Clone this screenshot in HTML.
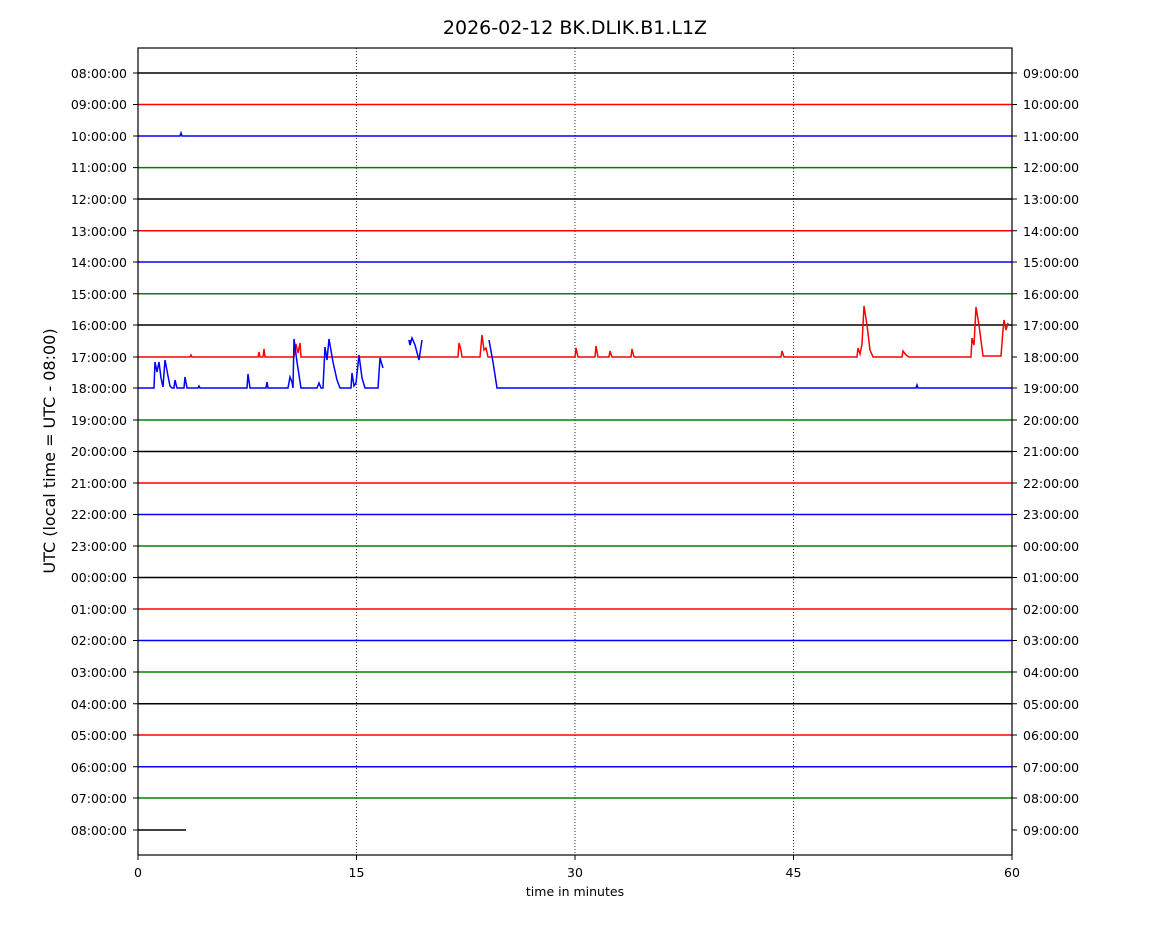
<!DOCTYPE html>
<html><head><meta charset="utf-8"><style>
body{margin:0;background:#fff}
svg{display:block;font-family:"DejaVu Sans","Liberation Sans",sans-serif}
</style></head><body>
<svg width="1150" height="950" viewBox="0 0 1150 950" xmlns="http://www.w3.org/2000/svg">
<rect width="1150" height="950" fill="#fff"/>
<text x="575" y="34" font-size="19" text-anchor="middle">2026-02-12 BK.DLIK.B1.L1Z</text>
<g stroke="#000" stroke-width="0.8" stroke-dasharray="1,2">
<line x1="356.5" y1="48" x2="356.5" y2="855"/>
<line x1="575" y1="48" x2="575" y2="855"/>
<line x1="793.5" y1="48" x2="793.5" y2="855"/>
</g>
<g stroke-width="1.5" fill="none">
<line x1="138" y1="73" x2="1012" y2="73" stroke="#000"/>
<line x1="138" y1="104.5" x2="1012" y2="104.5" stroke="red"/>
<polyline stroke="blue" points="138,136 180,136 181,133 182,136 1012,136"/>
<line x1="138" y1="167.6" x2="1012" y2="167.6" stroke="green"/>
<line x1="138" y1="199" x2="1012" y2="199" stroke="#000"/>
<line x1="138" y1="230.7" x2="1012" y2="230.7" stroke="red"/>
<line x1="138" y1="262" x2="1012" y2="262" stroke="blue"/>
<line x1="138" y1="293.8" x2="1012" y2="293.8" stroke="green"/>
<line x1="138" y1="325" x2="1012" y2="325" stroke="#000"/>
<polyline stroke="red" points="138,357 190,357 191,355 192,357 258,357 259,352 260,357 263,357 264,349 265,357 294,357 296,344 298,353 300,343 301,357 458,357 459,343 461,350 462,357 480,357 482,335 484,350 486,348 488,357 575,357 576,348 578,357 595,357 596,346 598,357 609,357 610,351 612,357 631,357 632,349 634,357 781,357 782,351 784,357 857,357 858,348 860,354 862,344 864,306 867,325 870,350 873,357 902,357 903,351 906,355 909,357 971,357 972,338 974,345 976,307 979,325 983,356 1001,356 1003,330 1004,320 1006,330 1008,323"/>
<polyline stroke="blue" points="138,388 154,388 155,362 157,372 159,362 161,378 163,387 165,360 168,376 170,386 172,388 174,388 175,380 177,388 184,388 185,377 187,388 198,388 199,386 200,388 247,388 248,374 250,388 266,388 267,382 268,388 288,388 290,377 292,382 293,388 294,339 297,362 301,388 317,388 319,383 321,388 323,388 325,347 327,360 329,339 333,362 337,380 340,388 351,388 352,373 354,386 356,383 359,355 362,378 365,388 378,388 380,358 383,368"/>
<polyline stroke="blue" points="409,340 410,345 411,340 M"/>
<polyline stroke="blue" points="409,340 410,345 412,338 415,345 419,360 422,340"/>
<polyline stroke="blue" points="489,340 493,362 497,388 916,388 917,385 918,388 1012,388"/>
<line x1="138" y1="420" x2="1012" y2="420" stroke="green"/>
<line x1="138" y1="451.5" x2="1012" y2="451.5" stroke="#000"/>
<line x1="138" y1="483" x2="1012" y2="483" stroke="red"/>
<line x1="138" y1="514.5" x2="1012" y2="514.5" stroke="blue"/>
<line x1="138" y1="546" x2="1012" y2="546" stroke="green"/>
<line x1="138" y1="577.5" x2="1012" y2="577.5" stroke="#000"/>
<line x1="138" y1="609" x2="1012" y2="609" stroke="red"/>
<line x1="138" y1="640.5" x2="1012" y2="640.5" stroke="blue"/>
<line x1="138" y1="672" x2="1012" y2="672" stroke="green"/>
<line x1="138" y1="703.7" x2="1012" y2="703.7" stroke="#000"/>
<line x1="138" y1="735" x2="1012" y2="735" stroke="red"/>
<line x1="138" y1="766.7" x2="1012" y2="766.7" stroke="blue"/>
<line x1="138" y1="798" x2="1012" y2="798" stroke="green"/>
<line x1="138" y1="830" x2="186" y2="830" stroke="#000"/>
</g>
<rect x="138" y="48" width="874" height="807" fill="none" stroke="#000" stroke-width="1.2"/>
<g font-size="12.5" fill="#000">
<g text-anchor="end">
<text x="127" y="78">08:00:00</text><text x="127" y="109">09:00:00</text><text x="127" y="141">10:00:00</text><text x="127" y="172">11:00:00</text><text x="127" y="204">12:00:00</text><text x="127" y="236">13:00:00</text><text x="127" y="267">14:00:00</text><text x="127" y="299">15:00:00</text><text x="127" y="330">16:00:00</text><text x="127" y="362">17:00:00</text><text x="127" y="393">18:00:00</text><text x="127" y="425">19:00:00</text><text x="127" y="456">20:00:00</text><text x="127" y="488">21:00:00</text><text x="127" y="519">22:00:00</text><text x="127" y="551">23:00:00</text><text x="127" y="582">00:00:00</text><text x="127" y="614">01:00:00</text><text x="127" y="645">02:00:00</text><text x="127" y="677">03:00:00</text><text x="127" y="709">04:00:00</text><text x="127" y="740">05:00:00</text><text x="127" y="772">06:00:00</text><text x="127" y="803">07:00:00</text><text x="127" y="835">08:00:00</text>
</g>
<g text-anchor="start">
<text x="1023" y="78">09:00:00</text><text x="1023" y="109">10:00:00</text><text x="1023" y="141">11:00:00</text><text x="1023" y="172">12:00:00</text><text x="1023" y="204">13:00:00</text><text x="1023" y="236">14:00:00</text><text x="1023" y="267">15:00:00</text><text x="1023" y="299">16:00:00</text><text x="1023" y="330">17:00:00</text><text x="1023" y="362">18:00:00</text><text x="1023" y="393">19:00:00</text><text x="1023" y="425">20:00:00</text><text x="1023" y="456">21:00:00</text><text x="1023" y="488">22:00:00</text><text x="1023" y="519">23:00:00</text><text x="1023" y="551">00:00:00</text><text x="1023" y="582">01:00:00</text><text x="1023" y="614">02:00:00</text><text x="1023" y="645">03:00:00</text><text x="1023" y="677">04:00:00</text><text x="1023" y="709">05:00:00</text><text x="1023" y="740">06:00:00</text><text x="1023" y="772">07:00:00</text><text x="1023" y="803">08:00:00</text><text x="1023" y="835">09:00:00</text>
</g>
<g text-anchor="middle">
<text x="138" y="877">0</text><text x="356.5" y="877">15</text><text x="575" y="877">30</text><text x="793.5" y="877">45</text><text x="1012" y="877">60</text>
<text x="575" y="896">time in minutes</text>
</g>
</g>
<g stroke="#000" stroke-width="1">
<path d="M138,855v5M356.5,855v5M575,855v5M793.5,855v5M1012,855v5"/>
<path d="M133,73h5M133,104.5h5M133,136h5M133,167.6h5M133,199h5M133,230.7h5M133,262h5M133,293.8h5M133,325h5M133,357h5M133,388h5M133,420h5M133,451.5h5M133,483h5M133,514.5h5M133,546h5M133,577.5h5M133,609h5M133,640.5h5M133,672h5M133,703.7h5M133,735h5M133,766.7h5M133,798h5M133,830h5"/>
<path d="M1012,73h5M1012,104.5h5M1012,136h5M1012,167.6h5M1012,199h5M1012,230.7h5M1012,262h5M1012,293.8h5M1012,325h5M1012,357h5M1012,388h5M1012,420h5M1012,451.5h5M1012,483h5M1012,514.5h5M1012,546h5M1012,577.5h5M1012,609h5M1012,640.5h5M1012,672h5M1012,703.7h5M1012,735h5M1012,766.7h5M1012,798h5M1012,830h5"/>
</g>
<text transform="translate(55,451) rotate(-90)" font-size="16" text-anchor="middle">UTC (local time = UTC - 08:00)</text>
</svg>
</body></html>
